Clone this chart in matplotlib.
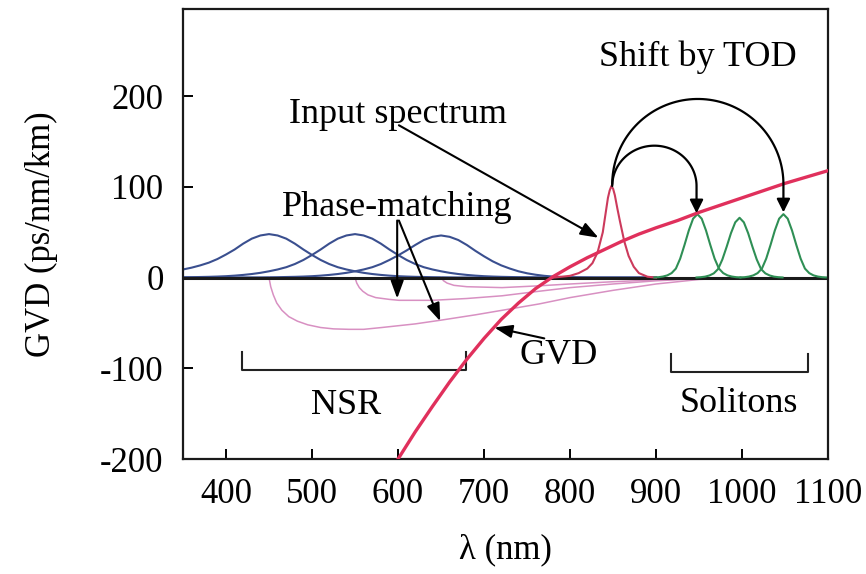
import numpy as np
import matplotlib.pyplot as plt
from matplotlib.patches import FancyArrowPatch
from matplotlib.path import Path

plt.rcParams['font.family'] = ['Liberation Serif', 'DejaVu Serif']
plt.rcParams['axes.unicode_minus'] = False

# ### DATA
# GVD curve of the fibre
gvd_wl = [600, 620, 640, 660, 680, 700, 720, 740, 760, 780, 800, 820, 840, 860,
          880, 900, 925, 950, 975, 1000, 1025, 1050, 1075, 1100]
gvd_val = [-200, -170, -142, -115, -90, -67, -46, -28, -12, 1, 12, 22, 31, 40,
           48, 55, 63, 72, 80, 88, 96, 104, 111, 118]

# blue NSR spectra (common grid 350..900 nm, step 10)
blue_wl = list(range(350, 910, 10))
blue_1 = [9, 11, 13.5, 16.5, 20.5, 25.5, 31, 37.5, 43, 46.5, 48, 46.5, 43, 37.5, 31, 25,
          19.5, 15, 11.5, 9, 7, 5.3, 4, 3, 2.2, 1.6, 1.2, 0.9, 0.7, 0.5, 0.4, 0.3, 0.2,
          0.2, 0.1, 0.1, 0.1, 0, 0, 0, 0, 0, 0, 0, 0, 0, 0, 0, 0, 0, 0, 0, 0, 0, 0, 0]
blue_2 = [0.4, 0.5, 0.7, 0.9, 1.2, 1.6, 2.2, 3, 4, 5.3, 7, 9, 11.5, 15, 19.5, 25, 31,
          37.5, 43, 46.5, 48, 46.5, 43, 37.5, 31, 25, 19.5, 15, 11.5, 9, 7, 5.3, 4, 3,
          2.2, 1.6, 1.2, 0.9, 0.7, 0.5, 0.4, 0.3, 0.2, 0.2, 0.1, 0, 0, 0, 0, 0, 0, 0, 0,
          0, 0, 0]
blue_3 = [0.1, 0.1, 0.1, 0.1, 0.2, 0.2, 0.2, 0.3, 0.3, 0.3, 0.4, 0.5, 0.7, 0.9, 1.2,
          1.6, 2.2, 3, 4, 5.3, 7, 9, 11.5, 15, 19.5, 24.5, 30, 36, 41.5, 45, 46.5, 45,
          41.5, 36, 29.5, 23.5, 18, 13.5, 10, 7, 4.8, 3.2, 2, 1.2, 0.7, 0.4, 0.2, 0.1,
          0, 0, 0, 0, 0, 0, 0, 0]

# phase-matching curves (pink)
pm1_wl = [450, 452, 455, 459, 465, 473, 483, 495, 510, 525, 543, 560, 581, 620, 649,
          690, 721, 764, 800, 850, 900, 950, 1000]
pm1_val = [0, -10, -19, -28, -36, -43, -48, -52, -55, -56.5, -57, -57, -55, -51, -47,
           -41, -36, -29, -22, -14, -7, -2, 0]
pm2_wl = [550, 552, 555, 559, 565, 574, 590, 601, 640, 680, 721, 764, 800, 850, 900,
          950, 1000]
pm2_val = [0, -6, -11, -15, -19, -22, -24, -25, -25, -23, -20, -15, -11, -7, -3.5, -1, 0]
pm3_wl = [650, 653, 657, 665, 680, 721, 764, 800, 850, 900, 950, 1000]
pm3_val = [0, -3.5, -6, -8.5, -10, -11, -9, -7, -4.5, -2.5, -1, 0]

# input spectrum (red)
inp_wl = [780, 800, 810, 820, 826, 832, 838, 844, 846, 848, 850, 852, 855, 858, 863,
          868, 874, 880, 890, 900]
inp_val = [0, 2, 5, 10, 16, 28, 50, 88, 96, 101, 98, 91, 76, 62, 40, 24, 12, 5, 1, 0]

# solitons (green)
sol1_wl = list(range(898, 1000, 5))
sol1_val = [0.2, 0.5, 1.2, 2.5, 5, 10, 21, 36, 52, 65, 70, 65, 52, 36, 21, 10, 5, 2.5,
            1.2, 0.5, 0.2]
sol2_wl = list(range(947, 1049, 5))
sol2_val = [0.2, 0.5, 1.1, 2.4, 4.7, 9.4, 20, 34, 49, 61, 66, 61, 49, 34, 20, 9.4, 4.7,
            2.4, 1.1, 0.5, 0.2]
sol3_wl = list(range(998, 1100, 5))
sol3_val = [0.2, 0.5, 1.2, 2.5, 5, 10, 21, 36, 52, 65, 70, 65, 52, 36, 21, 10, 5, 2.5,
            1.2, 0.5, 0.2]

xticks = [400, 500, 600, 700, 800, 900, 1000, 1100]
yticks = [-200, -100, 0, 100, 200]

# ### PLOT
fig = plt.figure(figsize=(8.66, 5.74), dpi=100)
ax = fig.add_axes([0.2113, 0.2003, 0.745, 0.7837])

blue = '#3a4f8f'
pink = '#d890c2'
for b in (blue_1, blue_2, blue_3):
    ax.plot(blue_wl, b, color=blue, lw=1.5)
for w, v in ((pm1_wl, pm1_val), (pm2_wl, pm2_val), (pm3_wl, pm3_val)):
    ax.plot(w, v, color=pink, lw=1.1)

ax.axhline(0, color='#1a1a1a', lw=2.2)

ax.plot(inp_wl, inp_val, color='#cc3a5c', lw=1.5)
for w, v in ((sol1_wl, sol1_val), (sol2_wl, sol2_val), (sol3_wl, sol3_val)):
    ax.plot(w, v, color='#2f8f55', lw=1.5)

ax.plot(gvd_wl, gvd_val, color='#e0305c', lw=2.4, zorder=5)

# arcs "Shift by TOD"
theta = np.linspace(np.pi, 0, 80)
for cx, cy, rx, ry, end in ((898, 101, 49, 44.5, 71), (948.5, 103, 99.5, 94, 72)):
    verts = list(zip(cx + rx * np.cos(theta), cy + ry * np.sin(theta)))
    verts.append((cx + rx, end))
    arc = FancyArrowPatch(path=Path(verts), arrowstyle='-|>,head_length=0.5,head_width=0.25',
                          mutation_scale=16, lw=1.6, color='black', zorder=6)
    ax.add_patch(arc)

ap = dict(arrowstyle='-|>,head_length=0.6,head_width=0.22', lw=1.5, color='black',
          shrinkA=0, shrinkB=0, mutation_scale=18)
ax.annotate('', xy=(833, 44), xytext=(601, 168), arrowprops=ap, zorder=6)
ax.annotate('', xy=(599, -23), xytext=(599, 63), arrowprops=ap, zorder=6)
ax.annotate('', xy=(649, -48), xytext=(601, 63), arrowprops=ap, zorder=6)
ax.annotate('', xy=(712, -55), xytext=(770, -67), arrowprops=ap, zorder=6)

# brackets
ax.plot([419, 419, 679, 679], [-82, -102, -102, -82], color='#222222', lw=1.5)
ax.plot([917, 917, 1076, 1076], [-84, -104, -104, -84], color='#222222', lw=1.5)

fs = 26
ax.text(600, 170, 'Input spectrum', fontsize=fs, ha='center', va='baseline')
ax.text(599, 68, 'Phase-matching', fontsize=fs, ha='center', va='baseline')
ax.text(949, 233, 'Shift by TOD', fontsize=fs, ha='center', va='baseline')
ax.text(787, -95, 'GVD', fontsize=fs, ha='center', va='baseline')
ax.text(540, -150, 'NSR', fontsize=fs, ha='center', va='baseline')
ax.text(996, -148, 'Solitons', fontsize=fs, ha='center', va='baseline')

ax.set_xlim(350, 1100)
ax.set_ylim(-200, 296)
ax.set_xticks(xticks)
ax.set_yticks(yticks)
ax.tick_params(direction='in', length=7, width=1.4, labelsize=25, top=False, right=False)
ax.tick_params(axis='x', pad=14)
ax.tick_params(axis='y', pad=14)
for s in ax.spines.values():
    s.set_linewidth(1.6)
    s.set_color('#1a1a1a')

ax.set_xlabel('λ (nm)', fontsize=25, labelpad=16)
ax.set_ylabel('GVD (ps/nm/km)', fontsize=25, labelpad=30)

fig.savefig('out.png', dpi=100)
